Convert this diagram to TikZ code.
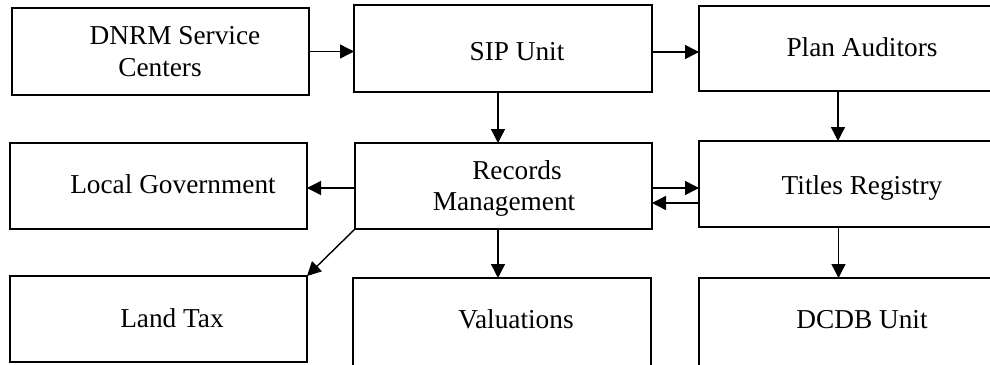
\documentclass[tikz,border=0pt]{standalone}
\usepackage{fontspec}
\setmainfont{Liberation Serif}
\usetikzlibrary{arrows.meta}
\begin{document}
\begin{tikzpicture}[x=1pt,y=-1pt,
  box/.style={draw,line width=1.4pt,rectangle,inner sep=0pt,outer sep=0pt,anchor=center},
  lbl/.style={anchor=base,inner sep=0pt,font=\fontsize{27.3}{32}\selectfont},
  arr/.style={line width=1.4pt,-{Triangle[length=14pt,width=14pt]}}]
\useasboundingbox (0,0) rectangle (990,364);
\clip (0,0) rectangle (990,364);

% boxes
\node[box,minimum width=297pt,minimum height=87pt] (dnrm) at (160.5,51.5) {};
\node[box,minimum width=298pt,minimum height=87pt] (sip) at (503,48.5) {};
\node[box,minimum width=298pt,minimum height=85pt] (plan) at (848,48.5) {};
\node[box,minimum width=297pt,minimum height=86pt] (local) at (158.5,186) {};
\node[box,minimum width=297pt,minimum height=86pt] (records) at (503.5,186) {};
\node[box,minimum width=298pt,minimum height=86pt] (titles) at (848,184) {};
\node[box,minimum width=297pt,minimum height=86pt] (land) at (158.5,319) {};
\node[box,minimum width=298pt,minimum height=88pt] (valuations) at (502,322) {};
\node[box,minimum width=298pt,minimum height=88pt] (dcdb) at (848,322) {};

% labels
\node[lbl] (tdnrm1) at (175,44) {DNRM Service};
\node[lbl] (tdnrm2) at (160,76) {Centers};
\node[lbl] (tsip) at (517,60) {SIP Unit};
\node[lbl] (tplan) at (862,56) {Plan Auditors};
\node[lbl] (tlocal) at (173,193) {Local Government};
\node[lbl] (trec1) at (517,179) {Records};
\node[lbl] (trec2) at (504,210) {Management};
\node[lbl] (ttitles) at (862,194) {Titles Registry};
\node[lbl] (tland) at (172,327) {Land Tax};
\node[lbl] (tval) at (516,328) {Valuations};
\node[lbl] (tdcdb) at (862,328) {DCDB Unit};

% connectors
\draw[arr] (dnrm.east) -- (dnrm.east -| sip.west);
\draw[arr] ([yshift=-3.5pt]sip.east) -- ([yshift=-3.5pt]sip.east -| plan.west);
\draw[arr] ([xshift=-5pt]sip.south) -- ([xshift=-5pt]sip.south |- records.north);
\draw[arr] ([xshift=-10pt]plan.south) -- ([xshift=-10pt]plan.south |- titles.north);
\draw[arr] ([yshift=-2pt]records.west) -- ([yshift=-2pt]records.west -| local.east);
\draw[arr] ([yshift=-2pt]records.east) -- ([yshift=-2pt]records.east -| titles.west);
\draw[arr] ([yshift=-19pt]titles.west) -- ([yshift=-19pt]titles.west -| records.east);
\draw[arr] (records.south west) -- (land.north east);
\draw[arr] ([xshift=-5.5pt]records.south) -- ([xshift=-5.5pt]records.south |- valuations.north);
\draw[arr] ([xshift=-9.5pt]titles.south) -- ([xshift=-9.5pt]titles.south |- dcdb.north);
\end{tikzpicture}
\end{document}
